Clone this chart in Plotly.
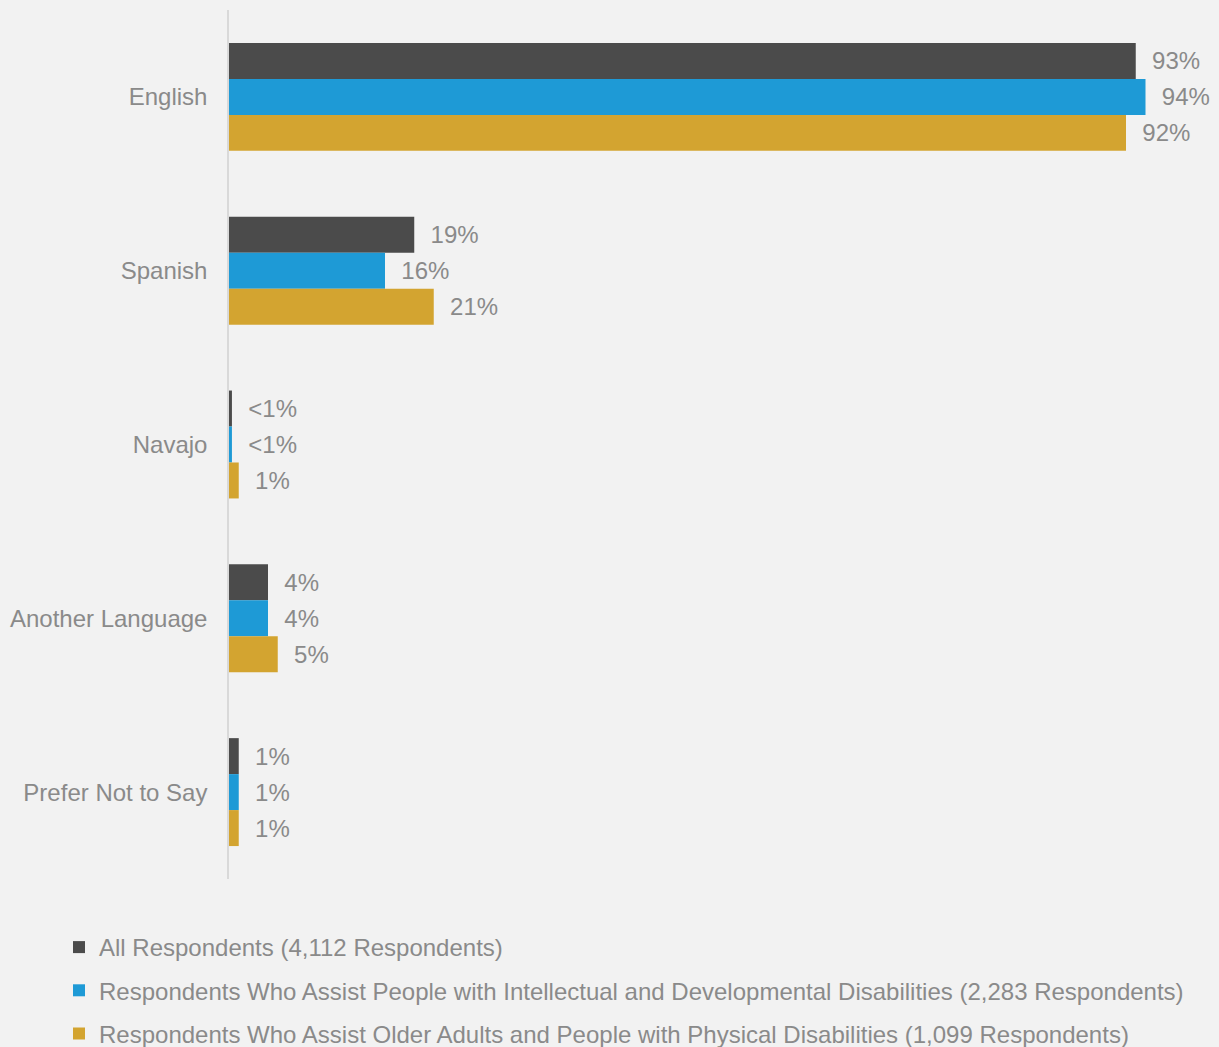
import plotly.graph_objects as go

# Languages spoken, share of respondents by group
languages = ["English", "Spanish", "Navajo", "Another Language", "Prefer Not to Say"]

series_names = [
    "All Respondents (4,112 Respondents)",
    "Respondents Who Assist People with Intellectual and Developmental Disabilities (2,283 Respondents)",
    "Respondents Who Assist Older Adults and People with Physical Disabilities (1,099 Respondents)",
]

all_respondents = [93, 19, 0.3, 4, 1]
idd_respondents = [94, 16, 0.3, 4, 1]
older_adults_respondents = [92, 21, 1, 5, 1]

colors = ["#4b4b4b", "#1e9ad6", "#d3a430"]
text_color = "#8a8a8a"
bg = "#f2f2f2"


def pct_label(v):
    return "<1%" if v < 1 else f"{v:.0f}%"


fig = go.Figure()
for i, (name, vals) in enumerate(
    zip(series_names, [all_respondents, idd_respondents, older_adults_respondents])
):
    fig.add_trace(
        go.Bar(
            y=languages,
            x=vals,
            orientation="h",
            name=name,
            legendgroup=f"g{i}",
            marker=dict(color=colors[i], line=dict(width=0)),
            text=["\u00a0\u00a0" + pct_label(v) for v in vals],
            textposition="outside",
            textfont=dict(size=24, color=text_color),
            cliponaxis=False,
            hoverinfo="skip",
        )
    )

fig.update_layout(
    width=1219,
    height=1047,
    paper_bgcolor=bg,
    plot_bgcolor=bg,
    font=dict(family="Liberation Sans, Arial, sans-serif", size=24, color=text_color),
    margin=dict(l=229, r=15, t=10, b=168, autoexpand=False),
    barmode="group",
    bargap=0.379,
    bargroupgap=0,
    showlegend=True,
    legend=dict(
        orientation="v",
        xref="container",
        yref="container",
        x=59 / 1219,
        xanchor="left",
        y=1 - 925 / 1047,
        yanchor="top",
        bgcolor="rgba(0,0,0,0)",
        font=dict(size=24, color=text_color),
        traceorder="grouped",
        tracegroupgap=9,
    ),
    xaxis=dict(
        range=[0, 100],
        visible=False,
        showgrid=False,
        zeroline=False,
        fixedrange=True,
        automargin=False,
    ),
    yaxis=dict(
        autorange="reversed",
        showline=True,
        linecolor="#d9d9d9",
        linewidth=1.5,
        showgrid=False,
        zeroline=False,
        ticks="",
        ticklabelstandoff=15,
        tickfont=dict(size=24, color=text_color),
        automargin=False,
    ),
)

fig.write_html("out.html")
